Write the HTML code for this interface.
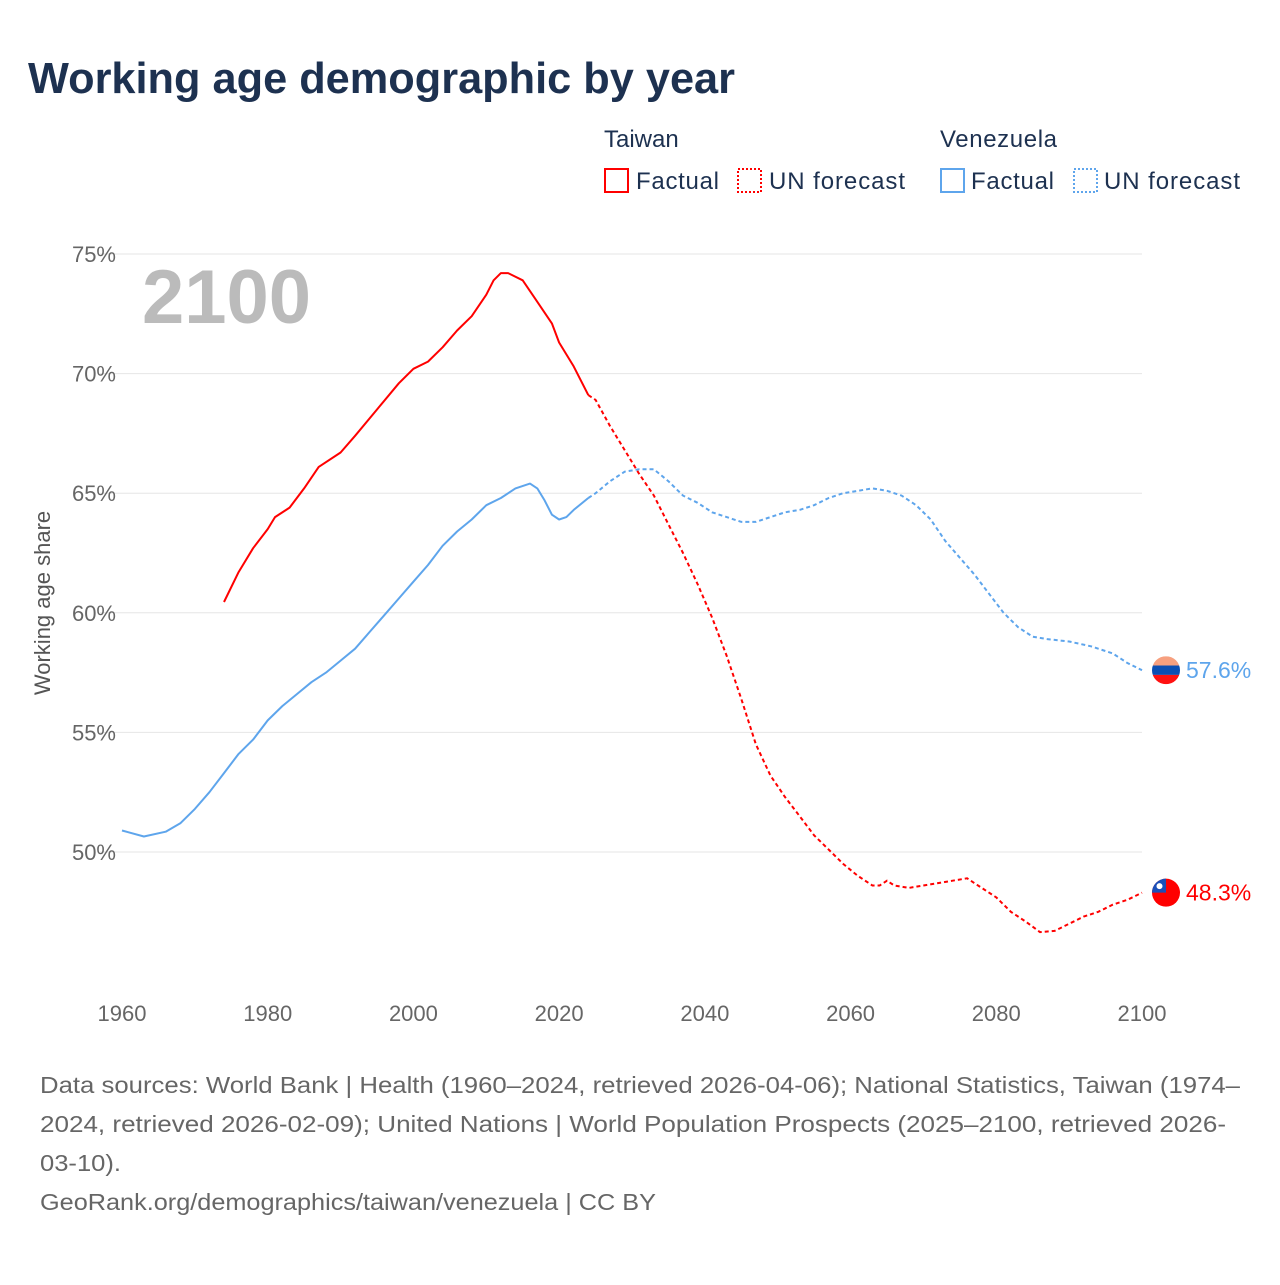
<!DOCTYPE html>
<html><head><meta charset="utf-8"><style>
body{margin:0;background:#fff;font-family:"Liberation Sans",sans-serif;}
#wrap{position:relative;width:1280px;height:1280px;}
</style></head><body>
<div id="wrap">
<svg id="svg" width="1280" height="1280">
<text x="28" y="93" font-size="44" font-weight="bold" fill="#1d3150" textLength="707" lengthAdjust="spacingAndGlyphs">Working age demographic by year</text>
<g font-size="24" fill="#1d3150">
<text x="604" y="147">Taiwan</text>
<rect x="605" y="169" width="23" height="23" fill="none" stroke="#f00" stroke-width="2"/>
<text x="636" y="189" textLength="83">Factual</text>
<rect x="738" y="169" width="23" height="23" fill="none" stroke="#f00" stroke-width="2" stroke-dasharray="2,2"/>
<text x="769" y="189" textLength="136">UN forecast</text>
<text x="940" y="147" textLength="117">Venezuela</text>
<rect x="941" y="169" width="23" height="23" fill="none" stroke="#5ea5ec" stroke-width="2"/>
<text x="971" y="189" textLength="83">Factual</text>
<rect x="1074" y="169" width="23" height="23" fill="none" stroke="#5ea5ec" stroke-width="2" stroke-dasharray="2,2"/>
<text x="1104" y="189" textLength="136">UN forecast</text>
</g>
<g id="grid"></g>
<text x="142" y="323" font-size="76" font-weight="bold" fill="#bbb">2100</text>
<text transform="translate(50,603) rotate(-90)" text-anchor="middle" font-size="22" fill="#555">Working age share</text>
<g id="series"></g>
<g font-size="23" fill="#666">
<text x="40" y="1093" textLength="1200" lengthAdjust="spacingAndGlyphs">Data sources: World Bank | Health (1960–2024, retrieved 2026-04-06); National Statistics, Taiwan (1974–</text>
<text x="40" y="1132" textLength="1186" lengthAdjust="spacingAndGlyphs">2024, retrieved 2026-02-09); United Nations | World Population Prospects (2025–2100, retrieved 2026-</text>
<text x="40" y="1171" textLength="81" lengthAdjust="spacingAndGlyphs">03-10).</text>
<text x="40" y="1210" textLength="616" lengthAdjust="spacingAndGlyphs">GeoRank.org/demographics/taiwan/venezuela | CC BY</text>
</g>
</svg>
</div>
<script>
const yTicks=[50,55,60,65,70,75];
const xTicks=[1960,1980,2000,2020,2040,2060,2080,2100];
const twYears=[1974,1976,1978,1980,1981,1983,1985,1987,1990,1992,1995,1998,2000,2002,2004,2006,2008,2010,2011,2012,2013,2015,2017,2019,2020,2022,2024,2025,2027,2029,2031,2033,2035,2037,2039,2041,2043,2045,2047,2049,2051,2053,2055,2057,2059,2061,2063,2064,2065,2066,2068,2070,2072,2074,2076,2078,2080,2082,2084,2086,2088,2090,2092,2094,2096,2098,2100];
const twValues=[60.45,61.7,62.7,63.5,64.0,64.4,65.2,66.1,66.7,67.4,68.5,69.6,70.2,70.5,71.1,71.8,72.4,73.3,73.9,74.2,74.2,73.9,73.0,72.1,71.3,70.3,69.1,68.9,67.8,66.8,65.8,64.9,63.7,62.5,61.2,59.8,58.2,56.4,54.5,53.2,52.3,51.5,50.7,50.1,49.5,49.0,48.6,48.6,48.8,48.6,48.5,48.6,48.7,48.8,48.9,48.5,48.1,47.5,47.1,46.65,46.7,47.0,47.3,47.5,47.8,48.0,48.3];
const veYears=[1960,1963,1966,1968,1970,1972,1974,1976,1978,1980,1982,1984,1986,1988,1990,1992,1994,1996,1998,2000,2002,2004,2006,2008,2010,2012,2014,2016,2017,2018,2019,2020,2021,2022,2024,2025,2027,2029,2031,2033,2035,2037,2039,2041,2043,2045,2047,2049,2051,2053,2055,2057,2059,2061,2063,2065,2067,2069,2071,2073,2075,2077,2079,2081,2083,2085,2087,2090,2093,2096,2098,2100];
const veValues=[50.9,50.65,50.85,51.2,51.8,52.5,53.3,54.1,54.7,55.5,56.1,56.6,57.1,57.5,58.0,58.5,59.2,59.9,60.6,61.3,62.0,62.8,63.4,63.9,64.5,64.8,65.2,65.4,65.2,64.7,64.1,63.9,64.0,64.3,64.8,65.0,65.5,65.9,66.0,66.0,65.5,64.9,64.6,64.2,64.0,63.8,63.8,64.0,64.2,64.3,64.5,64.8,65.0,65.1,65.2,65.1,64.9,64.5,63.9,63.0,62.3,61.6,60.8,60.0,59.4,59.0,58.9,58.8,58.6,58.3,57.9,57.6];
const forecastStart=2024;
const X=y=>122+(y-1960)*(1020/140);
const Y=v=>852-(v-50)*(598/25);
const NS="http://www.w3.org/2000/svg";
const grid=document.getElementById('grid'), ser=document.getElementById('series');
function mk(tag,attrs,parent){const e=document.createElementNS(NS,tag);for(const k in attrs)e.setAttribute(k,attrs[k]);parent.appendChild(e);return e;}
yTicks.forEach(t=>{
 const l=mk('line',{x1:100,x2:1142,y1:Y(t),y2:Y(t),stroke:'#e6e6e6','stroke-width':1},grid);
 
 
 const tx=mk('text',{x:116,y:Y(t)+8,'text-anchor':'end','font-size':22,fill:'#666'},grid);tx.textContent=t+'%';
 
 
});
xTicks.forEach(t=>{
 const tx=mk('text',{x:X(t),y:1021,'text-anchor':'middle','font-size':22,fill:'#666'},grid);tx.textContent=t;
 
 
});
function draw(years,vals,color,name){
 const a=[],b=[];
 years.forEach((y,i)=>{const p=X(y).toFixed(1)+','+Y(vals[i]).toFixed(1);if(y<=forecastStart)a.push(p);if(y>=forecastStart)b.push(p);});
 const l1=mk('polyline',{points:a.join(' '),fill:'none',stroke:color,'stroke-width':2,'stroke-linejoin':'round'},ser);
 
 
 const l2=mk('polyline',{points:b.join(' '),fill:'none',stroke:color,'stroke-width':2,'stroke-dasharray':'4,3'},ser);
 
 
 const last=vals[vals.length-1];
 const tx=mk('text',{x:1186,y:Y(last)+8,'font-size':23,fill:color},ser);tx.textContent=last.toFixed(1)+'%';
 
 
 return Y(last);
}
const yv=draw(veYears,veValues,'#5ea5ec','venezuela');
const yt=draw(twYears,twValues,'#f00','taiwan');
const fv=mk('g',{},ser);


mk('clipPath',{id:'cv'},fv).appendChild(document.createElementNS(NS,'circle'));
const cvc=fv.querySelector('circle');cvc.setAttribute('cx',1166);cvc.setAttribute('cy',yv);cvc.setAttribute('r',14);
mk('rect',{x:1152,y:yv-14,width:28,height:9.3,fill:'#f7a07f','clip-path':'url(#cv)'},fv);
mk('rect',{x:1152,y:yv-4.7,width:28,height:9.4,fill:'#0b4fb4','clip-path':'url(#cv)'},fv);
mk('rect',{x:1152,y:yv+4.7,width:28,height:9.3,fill:'#f11','clip-path':'url(#cv)'},fv);
const ft=mk('g',{},ser);


mk('circle',{cx:1166,cy:yt,r:14,fill:'#f00'},ft);
mk('path',{d:`M1152,${yt} A14,14 0 0 1 1166,${yt-14} L1166,${yt} Z`,fill:'#1a4fb8'},ft);
mk('circle',{cx:1159.5,cy:yt-6.5,r:3,fill:'#fff'},ft);
</script>
</body></html>
